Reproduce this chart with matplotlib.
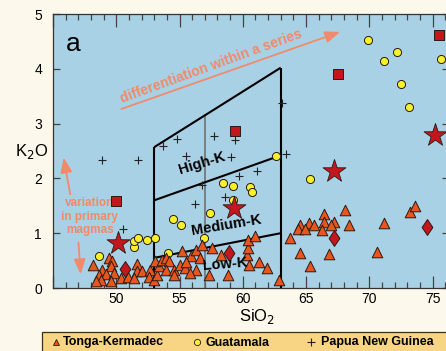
import matplotlib
matplotlib.use("Agg")
import matplotlib.pyplot as plt
from matplotlib.lines import Line2D
from matplotlib.patches import Rectangle
from matplotlib.ticker import MultipleLocator, FuncFormatter

plt.rcParams['font.family'] = ['Liberation Sans', 'DejaVu Sans']

# ---------------- data ----------------
tonga_sio2 = [48.2, 49.4, 49.7, 48.9, 49.6, 48.6, 49.2, 49.8, 48.8, 48.4, 49.6, 50.4, 50.9,
              51.6, 51.6, 52.0, 51.4, 52.7, 52.6, 53.0, 53.2, 53.4, 53.1, 53.6, 53.9, 54.2,
              53.9, 54.6, 55.0, 55.4, 55.2, 55.9, 56.3, 56.3, 55.5, 55.8, 54.6, 56.6, 56.8,
              57.6, 58.3, 58.8, 57.3, 60.3, 60.4, 60.4, 61.0, 60.5, 61.3, 61.9, 62.9,
              63.7, 64.5, 64.4, 65.2, 64.9, 65.6, 66.4, 66.4, 67.2, 67.0, 66.3, 68.1, 68.4,
              64.5, 65.3, 66.8, 71.2, 70.6, 73.2, 73.6]
tonga_k2o = [0.42, 0.55, 0.49, 0.33, 0.40, 0.24, 0.26, 0.27, 0.15, 0.13, 0.13, 0.18, 0.20,
             0.44, 0.31, 0.31, 0.18, 0.33, 0.20, 0.15, 0.24, 0.40, 0.49, 0.51, 0.55, 0.49,
             0.33, 0.33, 0.42, 0.36, 0.68, 0.58, 0.33, 0.69, 0.48, 0.27, 0.24, 0.55, 0.78,
             0.73, 0.60, 0.24, 0.24, 0.60, 0.73, 0.88, 0.95, 0.42, 0.47, 0.36, 0.15,
             0.91, 1.15, 1.08, 1.19, 1.08, 1.15, 1.35, 1.21, 1.21, 1.15, 1.06, 1.42, 1.15,
             0.64, 0.40, 0.62, 1.19, 0.66, 1.39, 1.50]

guat_sio2 = [48.6, 51.4, 51.4, 51.7, 52.4, 53.1, 54.1, 54.5, 55.1, 56.9, 57.4, 58.4, 59.2,
             59.2, 60.6, 60.7, 62.6, 65.3, 69.9, 71.2, 72.2, 72.5, 73.1, 75.7]
guat_k2o = [0.58, 0.75, 0.86, 0.91, 0.87, 0.91, 0.63, 1.26, 1.15, 0.92, 1.37, 1.92, 1.61,
            1.86, 1.84, 1.75, 2.41, 1.99, 4.53, 4.14, 4.30, 3.73, 3.31, 4.18]

png_sio2 = [48.9, 51.7, 50.5, 53.7, 54.8, 57.7, 59.4, 55.5, 59.1, 59.7, 61.1, 63.4, 56.8,
            56.2, 58.6, 63.1]
png_k2o = [2.34, 2.34, 1.08, 2.59, 2.72, 2.77, 2.70, 2.41, 2.39, 2.05, 2.14, 2.44, 1.88,
           1.54, 1.66, 3.37]

square_sio2 = [50.0, 59.4, 67.5, 75.5]
square_k2o = [1.59, 2.86, 3.91, 4.62]
star_sio2 = [50.1, 59.3, 67.2, 75.2]
star_k2o = [0.82, 1.46, 2.13, 2.79]
diamond_sio2 = [50.7, 58.9, 67.2, 74.6]
diamond_k2o = [0.35, 0.64, 0.91, 1.11]

# Series boundaries (SiO2, K2O)
bound_low = ([53, 63], [0.55, 1.0])
bound_high = ([53, 63], [1.6, 2.42])
bound_top = ([53, 63], [2.57, 4.02])
left_edge = ([53, 53], [0, 2.57])
right_edge = ([63, 63], [0, 4.02])
mid_line = ([57, 57], [0, 3.15])

legend_labels = ['Tonga-Kermadec', 'Guatamala', 'Papua New Guinea']

# ---------------- style ----------------
W, H = 446, 351
bg = '#FDF8EC'
axbg = '#A9D1E5'
salmon = '#F08A6A'
tri_c = '#E8561E'
yel_c = '#F7F02C'
red_c = '#C3161D'
edge = '#2a1a14'

fig = plt.figure(figsize=(W / 100, H / 100), dpi=100, facecolor=bg)
ax = fig.add_axes([53 / W, (H - 288) / H, (449 - 53) / W, 274 / H])
ax.set_facecolor(axbg)
ax.set_xlim(45, 76.3)
ax.set_ylim(0, 5)

for s in ax.spines.values():
    s.set_color('#333333')
    s.set_linewidth(0.9)

ax.xaxis.set_major_locator(MultipleLocator(5))
ax.xaxis.set_minor_locator(MultipleLocator(1))
ax.xaxis.set_major_formatter(FuncFormatter(lambda v, p: '' if v < 47 else f'{v:.0f}'))
ax.yaxis.set_major_locator(MultipleLocator(1))
ax.tick_params(axis='x', which='major', direction='in', length=9, width=0.9, color='#444444',
               top=True, bottom=True, labelsize=10, pad=3)
ax.tick_params(axis='x', which='minor', direction='in', length=4.5, width=0.9, color='#444444',
               top=True, bottom=True)
ax.tick_params(axis='y', which='major', direction='in', length=5, width=0.9, color='#444444',
               left=True, right=True, labelsize=10, pad=8)

# boundary lines
for xs, ys in [bound_low, bound_high, bound_top, left_edge, right_edge]:
    ax.plot(xs, ys, color='black', lw=1.5, zorder=3, solid_capstyle='butt')
ax.plot(*mid_line, color='#6a6a6a', lw=1.1, zorder=2)

# data
ax.scatter(png_sio2, png_k2o, marker='+', s=36, color='#222222', linewidths=0.8, zorder=4)
ax.scatter(guat_sio2, guat_k2o, marker='o', s=34, facecolor=yel_c, edgecolor=edge,
           linewidths=0.7, zorder=5)
ax.scatter(tonga_sio2, tonga_k2o, marker='^', s=58, facecolor=tri_c, edgecolor=edge,
           linewidths=0.7, zorder=5)
ax.scatter(square_sio2, square_k2o, marker='s', s=60, facecolor=red_c, edgecolor=edge,
           linewidths=0.7, zorder=6)
ax.scatter(star_sio2, star_k2o, marker='*', s=300, facecolor=red_c, edgecolor=edge,
           linewidths=0.6, zorder=6)
diamond = [(0, 1), (0.68, 0), (0, -1), (-0.68, 0), (0, 1)]
ax.scatter(diamond_sio2, diamond_k2o, marker=diamond, s=130, facecolor=red_c, edgecolor=edge,
           linewidths=0.7, zorder=6)

# region labels
ax.text(56.8, 2.28, 'High-K', rotation=17, ha='center', va='center', fontsize=10.5,
        fontweight='bold', zorder=7)
ax.text(58.7, 1.15, 'Medium-K', rotation=9.5, ha='center', va='center', fontsize=10.5,
        fontweight='bold', zorder=7)
ax.text(58.6, 0.43, 'Low-K', rotation=4.5, ha='center', va='center', fontsize=10.5,
        fontweight='bold', zorder=7)

ax.text(46.6, 4.45, 'a', fontsize=19, ha='center', va='center')

# annotations
ax.annotate('', xy=(67.9, 4.69), xytext=(50.2, 3.25),
            arrowprops=dict(arrowstyle='-|>,head_length=0.9,head_width=0.35', color=salmon, lw=1.3))
ax.text(57.5, 4.05, 'differentiation within a series', rotation=20, ha='center', va='center',
        fontsize=10, fontweight='bold', color=salmon)
ax.annotate('', xy=(45.8, 2.43), xytext=(46.4, 1.66),
            arrowprops=dict(arrowstyle='-|>,head_length=0.9,head_width=0.35', color=salmon, lw=1.3))
ax.annotate('', xy=(47.2, 0.2), xytext=(47.0, 0.88),
            arrowprops=dict(arrowstyle='-|>,head_length=0.9,head_width=0.35', color=salmon, lw=1.3))
ax.text(47.9, 1.30, 'variation\nin primary\nmagmas', ha='center', va='center', fontsize=8.5,
        fontweight='bold', color=salmon, linespacing=1.15)

# axis labels
fig.text(257 / W, 1 - 317 / H, 'SiO$_2$', ha='center', va='center', fontsize=12)
fig.text(32 / W, 1 - 152 / H, 'K$_2$O', ha='center', va='center', fontsize=12)

# legend box
fig.add_artist(Rectangle((42 / W, -0.05), 0.99, (H - 332) / H + 0.05, transform=fig.transFigure,
                         facecolor='#F8D584', edgecolor='#3a3020', lw=0.9))
ly = 1 - 341.5 / H
lb = 1 - 345.5 / H
fig.add_artist(Line2D([56 / W], [ly], marker='^', ms=5, mfc=tri_c, mec=edge, mew=0.6,
                      transform=fig.transFigure))
fig.add_artist(Line2D([197 / W], [ly], marker='o', ms=4.5, mfc=yel_c, mec=edge, mew=0.6,
                      transform=fig.transFigure))
fig.add_artist(Line2D([311 / W], [ly], marker='+', ms=5.5, color='#222222', mew=0.8,
                      transform=fig.transFigure))
fig.text(63 / W, lb, legend_labels[0], ha='left', va='baseline', fontsize=9, fontweight='bold')
fig.text(206 / W, lb, legend_labels[1], ha='left', va='baseline', fontsize=9, fontweight='bold')
fig.text(321 / W, lb, legend_labels[2], ha='left', va='baseline', fontsize=9, fontweight='bold')

fig.savefig('out.png', dpi=100, facecolor=bg)
